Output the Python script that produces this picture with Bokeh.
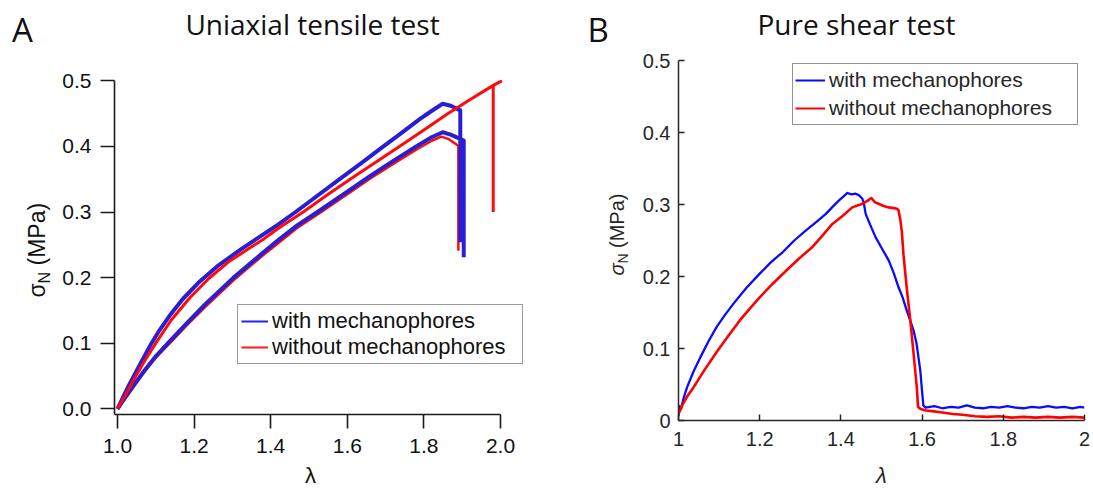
import math
from bokeh.plotting import figure
from bokeh.models import Label, Legend, LegendItem, FixedTicker, Range1d, NumeralTickFormatter
from bokeh.layouts import row, column
from bokeh.embed import file_html
from bokeh.resources import INLINE

# ---------------- Panel A: uniaxial tensile test ----------------
a_xticks = [1.0, 1.2, 1.4, 1.6, 1.8, 2.0]
a_yticks = [0.0, 0.1, 0.2, 0.3, 0.4, 0.5]

lam_with_1 = [1.000, 1.015, 1.030, 1.050, 1.070, 1.087, 1.110, 1.140, 1.170, 1.211, 1.260, 1.322, 1.363,
              1.420, 1.465, 1.520, 1.580, 1.640, 1.690, 1.740, 1.790, 1.820, 1.849, 1.870, 1.895, 1.895]
sig_with_1 = [0.000, 0.018, 0.036, 0.058, 0.080, 0.098, 0.120, 0.145, 0.167, 0.192, 0.217, 0.243, 0.259,
              0.281, 0.300, 0.324, 0.350, 0.376, 0.398, 0.420, 0.442, 0.454, 0.465, 0.462, 0.455, 0.254]

lam_with_2 = [1.000, 1.020, 1.045, 1.070, 1.100, 1.138, 1.180, 1.230, 1.303, 1.386, 1.419, 1.470, 1.530,
              1.600, 1.660, 1.720, 1.780, 1.820, 1.849, 1.870, 1.904, 1.904]
sig_with_2 = [0.000, 0.017, 0.038, 0.058, 0.080, 0.104, 0.130, 0.160, 0.200, 0.241, 0.257, 0.280, 0.303,
              0.331, 0.355, 0.378, 0.400, 0.414, 0.4216, 0.418, 0.409, 0.231]

lam_without_1 = [1.000, 1.020, 1.045, 1.070, 1.100, 1.140, 1.190, 1.239, 1.290, 1.345, 1.382, 1.430, 1.485,
                 1.550, 1.620, 1.680, 1.736, 1.800, 1.860, 1.920, 1.981, 2.001, 1.981, 1.981]
sig_without_1 = [0.000, 0.020, 0.047, 0.072, 0.100, 0.135, 0.170, 0.199, 0.224, 0.245, 0.259, 0.279, 0.300,
                 0.327, 0.355, 0.378, 0.400, 0.425, 0.449, 0.471, 0.493, 0.499, 0.493, 0.300]

lam_without_2 = [1.000, 1.020, 1.045, 1.070, 1.100, 1.140, 1.182, 1.232, 1.305, 1.388, 1.421, 1.472, 1.532,
                 1.602, 1.662, 1.722, 1.783, 1.822, 1.845, 1.865, 1.890, 1.890]
sig_without_2 = [0.000, 0.016, 0.036, 0.056, 0.078, 0.102, 0.128, 0.157, 0.197, 0.238, 0.253, 0.277, 0.300,
                 0.328, 0.352, 0.374, 0.396, 0.409, 0.415, 0.411, 0.401, 0.241]

# ---------------- Panel B: pure shear test ----------------
b_xticks = [1.0, 1.2, 1.4, 1.6, 1.8, 2.0]
b_yticks = [0.0, 0.1, 0.2, 0.3, 0.4, 0.5]

lam_with_B = [1.000, 1.002, 1.006, 1.012, 1.021, 1.037, 1.054, 1.074, 1.094, 1.115, 1.135, 1.167, 1.200,
              1.228, 1.257, 1.285, 1.314, 1.340, 1.363, 1.380, 1.396, 1.406, 1.416, 1.426, 1.436, 1.444,
              1.453, 1.457, 1.461, 1.472, 1.485, 1.500, 1.518, 1.530, 1.542, 1.552, 1.562, 1.570, 1.579,
              1.586, 1.591, 1.596, 1.599, 1.603, 1.609, 1.630, 1.650, 1.670, 1.690, 1.710, 1.730, 1.750,
              1.770, 1.790, 1.810, 1.830, 1.850, 1.870, 1.890, 1.910, 1.930, 1.950, 1.970, 1.990, 2.000]
sig_with_B = [0.006, 0.020, 0.016, 0.030, 0.046, 0.068, 0.088, 0.110, 0.130, 0.147, 0.162, 0.184, 0.204,
              0.220, 0.234, 0.250, 0.264, 0.276, 0.287, 0.297, 0.306, 0.311, 0.316, 0.314, 0.315, 0.313,
              0.308, 0.300, 0.287, 0.272, 0.255, 0.240, 0.222, 0.205, 0.185, 0.171, 0.153, 0.140, 0.125,
              0.108, 0.088, 0.067, 0.046, 0.021, 0.018, 0.020, 0.017, 0.019, 0.018, 0.021, 0.018, 0.017,
              0.019, 0.018, 0.020, 0.018, 0.017, 0.019, 0.018, 0.020, 0.018, 0.019, 0.017, 0.019, 0.018]

lam_without_B = [1.000, 1.010, 1.022, 1.037, 1.065, 1.094, 1.122, 1.151, 1.175, 1.200, 1.232, 1.265,
                 1.297, 1.330, 1.355, 1.379, 1.404, 1.428, 1.453, 1.465, 1.475, 1.484, 1.493, 1.505,
                 1.518, 1.530, 1.538, 1.542, 1.546, 1.550, 1.554, 1.562, 1.571, 1.579, 1.587, 1.590,
                 1.596, 1.610, 1.624, 1.650, 1.675, 1.700, 1.730, 1.760, 1.790, 1.820, 1.850, 1.880,
                 1.910, 1.940, 1.970, 2.000]
sig_without_B = [0.009, 0.022, 0.034, 0.046, 0.071, 0.095, 0.117, 0.139, 0.155, 0.171, 0.190, 0.208,
                 0.225, 0.241, 0.257, 0.273, 0.284, 0.296, 0.301, 0.305, 0.309, 0.303, 0.301, 0.298,
                 0.296, 0.295, 0.294, 0.292, 0.280, 0.263, 0.231, 0.185, 0.139, 0.093, 0.046, 0.019,
                 0.016, 0.014, 0.013, 0.011, 0.009, 0.008, 0.006, 0.005, 0.006, 0.004, 0.005, 0.004,
                 0.005, 0.004, 0.005, 0.004]

legend_labels = ["with mechanophores", "without mechanophores"]

# ---------------- styles ----------------
A_BLUE = "#2a1ed2"
A_RED = "#ff0a0a"
B_BLUE = "#0a0aff"
B_RED = "#ff0000"
SANS = "Liberation Sans"
TITLE_FONT = "Open Sans"


def strip(w, h):
    """blank figure used only to hold text (frame covers the whole canvas)"""
    s = figure(frame_width=w, frame_height=h, min_border=0, x_range=Range1d(0, w), y_range=Range1d(0, h),
               x_axis_location=None, y_axis_location=None, toolbar_location=None,
               output_backend="svg", title=None)
    s.outline_line_color = None
    s.background_fill_color = "white"
    s.border_fill_color = "white"
    s.grid.visible = False
    return s


def lbl(p, x, y, text, size, font=SANS, style="normal", angle=0.0, align="left", color="#111111"):
    p.add_layout(Label(x=x, y=y, x_units="screen", y_units="screen", text=text,
                       text_font=font, text_font_size=size, text_font_style=style,
                       angle=angle, text_align=align, text_baseline="middle",
                       text_color=color))


def main_fig(fw, fh, xr, yr, ml, mr, mt, mb):
    p = figure(frame_width=fw, frame_height=fh, x_range=Range1d(*xr), y_range=Range1d(*yr),
               output_backend="svg", toolbar_location=None, title=None,
               min_border_left=ml, min_border_right=mr, min_border_top=mt, min_border_bottom=mb)
    p.outline_line_color = None
    p.background_fill_color = "white"
    p.border_fill_color = "white"
    p.xgrid.visible = False
    p.ygrid.visible = False
    return p


# ===== Figure A (main) =====
axr = (0.99217, 2.09138)
ayr = (-0.00869, 0.53095)
pa = main_fig(421, 354, axr, ayr, 58, 25, 2, 49)

pa.line(lam_without_2, sig_without_2, line_color=A_RED, line_width=2.5, line_join="round")
pa.line(lam_with_2, sig_with_2, line_color=A_BLUE, line_width=4, line_join="round")
pa.line(lam_with_1, sig_with_1, line_color=A_BLUE, line_width=4, line_join="round")
pa.line(lam_without_1, sig_without_1, line_color=A_RED, line_width=3, line_join="round")

for ax in (pa.xaxis[0], pa.yaxis[0]):
    ax.major_tick_out = 14
    ax.major_tick_in = 0
    ax.minor_tick_out = 0
    ax.minor_tick_in = 0
    ax.axis_line_width = 1.6
    ax.axis_line_color = "#1a1a1a"
    ax.major_tick_line_width = 1.6
    ax.major_tick_line_color = "#1a1a1a"
    ax.major_label_text_font = SANS
    ax.major_label_text_font_size = "21px"
    ax.major_label_text_color = "#111111"
    ax.formatter = NumeralTickFormatter(format="0.0")
pa.xaxis.ticker = FixedTicker(ticks=a_xticks)
pa.yaxis.ticker = FixedTicker(ticks=a_yticks)
pa.xaxis.bounds = (axr[0], 2.0)
pa.yaxis.bounds = (ayr[0], 0.5)
pa.xaxis.major_label_standoff = 10
pa.yaxis.major_label_standoff = 9

la_w = pa.line([0.2, 0.3], [-5, -5], line_color="#2222ee", line_width=2)
la_o = pa.line([0.2, 0.3], [-5, -5], line_color="#ff1a1a", line_width=2)
leg_a = Legend(items=[LegendItem(label=legend_labels[0], renderers=[la_w]),
                      LegendItem(label=legend_labels[1], renderers=[la_o])],
               location=(123, 50), margin=0, padding=3, spacing=0,
               glyph_width=27, glyph_height=26, label_height=26, label_width=247, label_standoff=4,
               label_text_font=SANS, label_text_font_size="22px", label_text_color="#111111",
               border_line_color="#333333", border_line_width=1.5,
               background_fill_color="white", background_fill_alpha=1.0)
pa.add_layout(leg_a)

# ===== Figure B (main) =====
bxr = (1.0, 2.0)
byr = (0.0, 0.5)
pb = main_fig(406, 360, bxr, byr, 46, 8, 14, 43)

pb.line(lam_with_B, sig_with_B, line_color=B_BLUE, line_width=2.3, line_join="round")
pb.line(lam_without_B, sig_without_B, line_color=B_RED, line_width=2.6, line_join="round")

for ax in (pb.xaxis[0], pb.yaxis[0]):
    ax.major_tick_out = 0
    ax.major_tick_in = 6
    ax.minor_tick_out = 0
    ax.minor_tick_in = 0
    ax.axis_line_width = 1.5
    ax.axis_line_color = "#262626"
    ax.major_tick_line_width = 1.5
    ax.major_tick_line_color = "#262626"
    ax.major_label_text_font = SANS
    ax.major_label_text_font_size = "20px"
    ax.major_label_text_color = "#262626"
    ax.formatter = NumeralTickFormatter(format="0.[0]")
pb.xaxis.ticker = FixedTicker(ticks=b_xticks)
pb.yaxis.ticker = FixedTicker(ticks=b_yticks)
pb.xaxis.major_label_standoff = 11
pb.yaxis.major_label_standoff = 8

lb_w = pb.line([0.2, 0.3], [-5, -5], line_color=B_BLUE, line_width=2)
lb_o = pb.line([0.2, 0.3], [-5, -5], line_color=B_RED, line_width=2)
leg_b = Legend(items=[LegendItem(label=legend_labels[0], renderers=[lb_w]),
                      LegendItem(label=legend_labels[1], renderers=[lb_o])],
               location=(114, 295), margin=0, padding=2, spacing=0,
               glyph_width=30, glyph_height=28, label_height=28, label_width=246, label_standoff=4,
               label_text_font=SANS, label_text_font_size="21px", label_text_color="#262626",
               border_line_color="#262626", border_line_width=1.5,
               background_fill_color="white", background_fill_alpha=1.0)
pb.add_layout(leg_b)

# ===== text strips (label x / y values are text centres in strip pixels) =====
# panel A column: header 58, body 405, footer 25
headA = strip(560, 58)
lbl(headA, 11.6, 29.5, "A", "33px", font=TITLE_FONT)
lbl(headA, 312, 34.5, "Uniaxial tensile test", "28px", font=TITLE_FONT, align="center")

ylabA = strip(56, 405)
lbl(ylabA, 36, 168, "σ", "23px", angle=math.pi / 2)
lbl(ylabA, 43.5, 182, "N", "16px", angle=math.pi / 2)
lbl(ylabA, 36, 200, "(MPa)", "23px", angle=math.pi / 2)

footA = strip(560, 25)
lbl(footA, 310, 12.6, "λ", "22px", align="center")

# panel B: left column (letter + y label), right column (title + plot + x label)
headB_l = strip(72, 58)
lbl(headB_l, 27, 29.5, "B", "33px", font=TITLE_FONT)

ylabB = strip(72, 405)
lbl(ylabB, 56, 188, "σ", "20px", style="italic", angle=math.pi / 2, color="#262626")
lbl(ylabB, 62, 200, "N", "14px", angle=math.pi / 2, color="#262626")
lbl(ylabB, 56, 215.5, "(MPa)", "20px", angle=math.pi / 2, color="#262626")

footB_l = strip(72, 25)

headB_r = strip(460, 46)
lbl(headB_r, 224, 22.5, "Pure shear test", "28px", font=TITLE_FONT, align="center")

footB_r = strip(460, 25)
lbl(footB_r, 249, 12.6, "λ", "22px", style="italic", align="center", color="#262626")

colA = column(headA, row(ylabA, pa), footA)
colB = row(column(headB_l, ylabB, footB_l), column(headB_r, row(pb), footB_r))
layout = row(colA, colB)
open("out.html", "w").write(file_html(layout, INLINE))
